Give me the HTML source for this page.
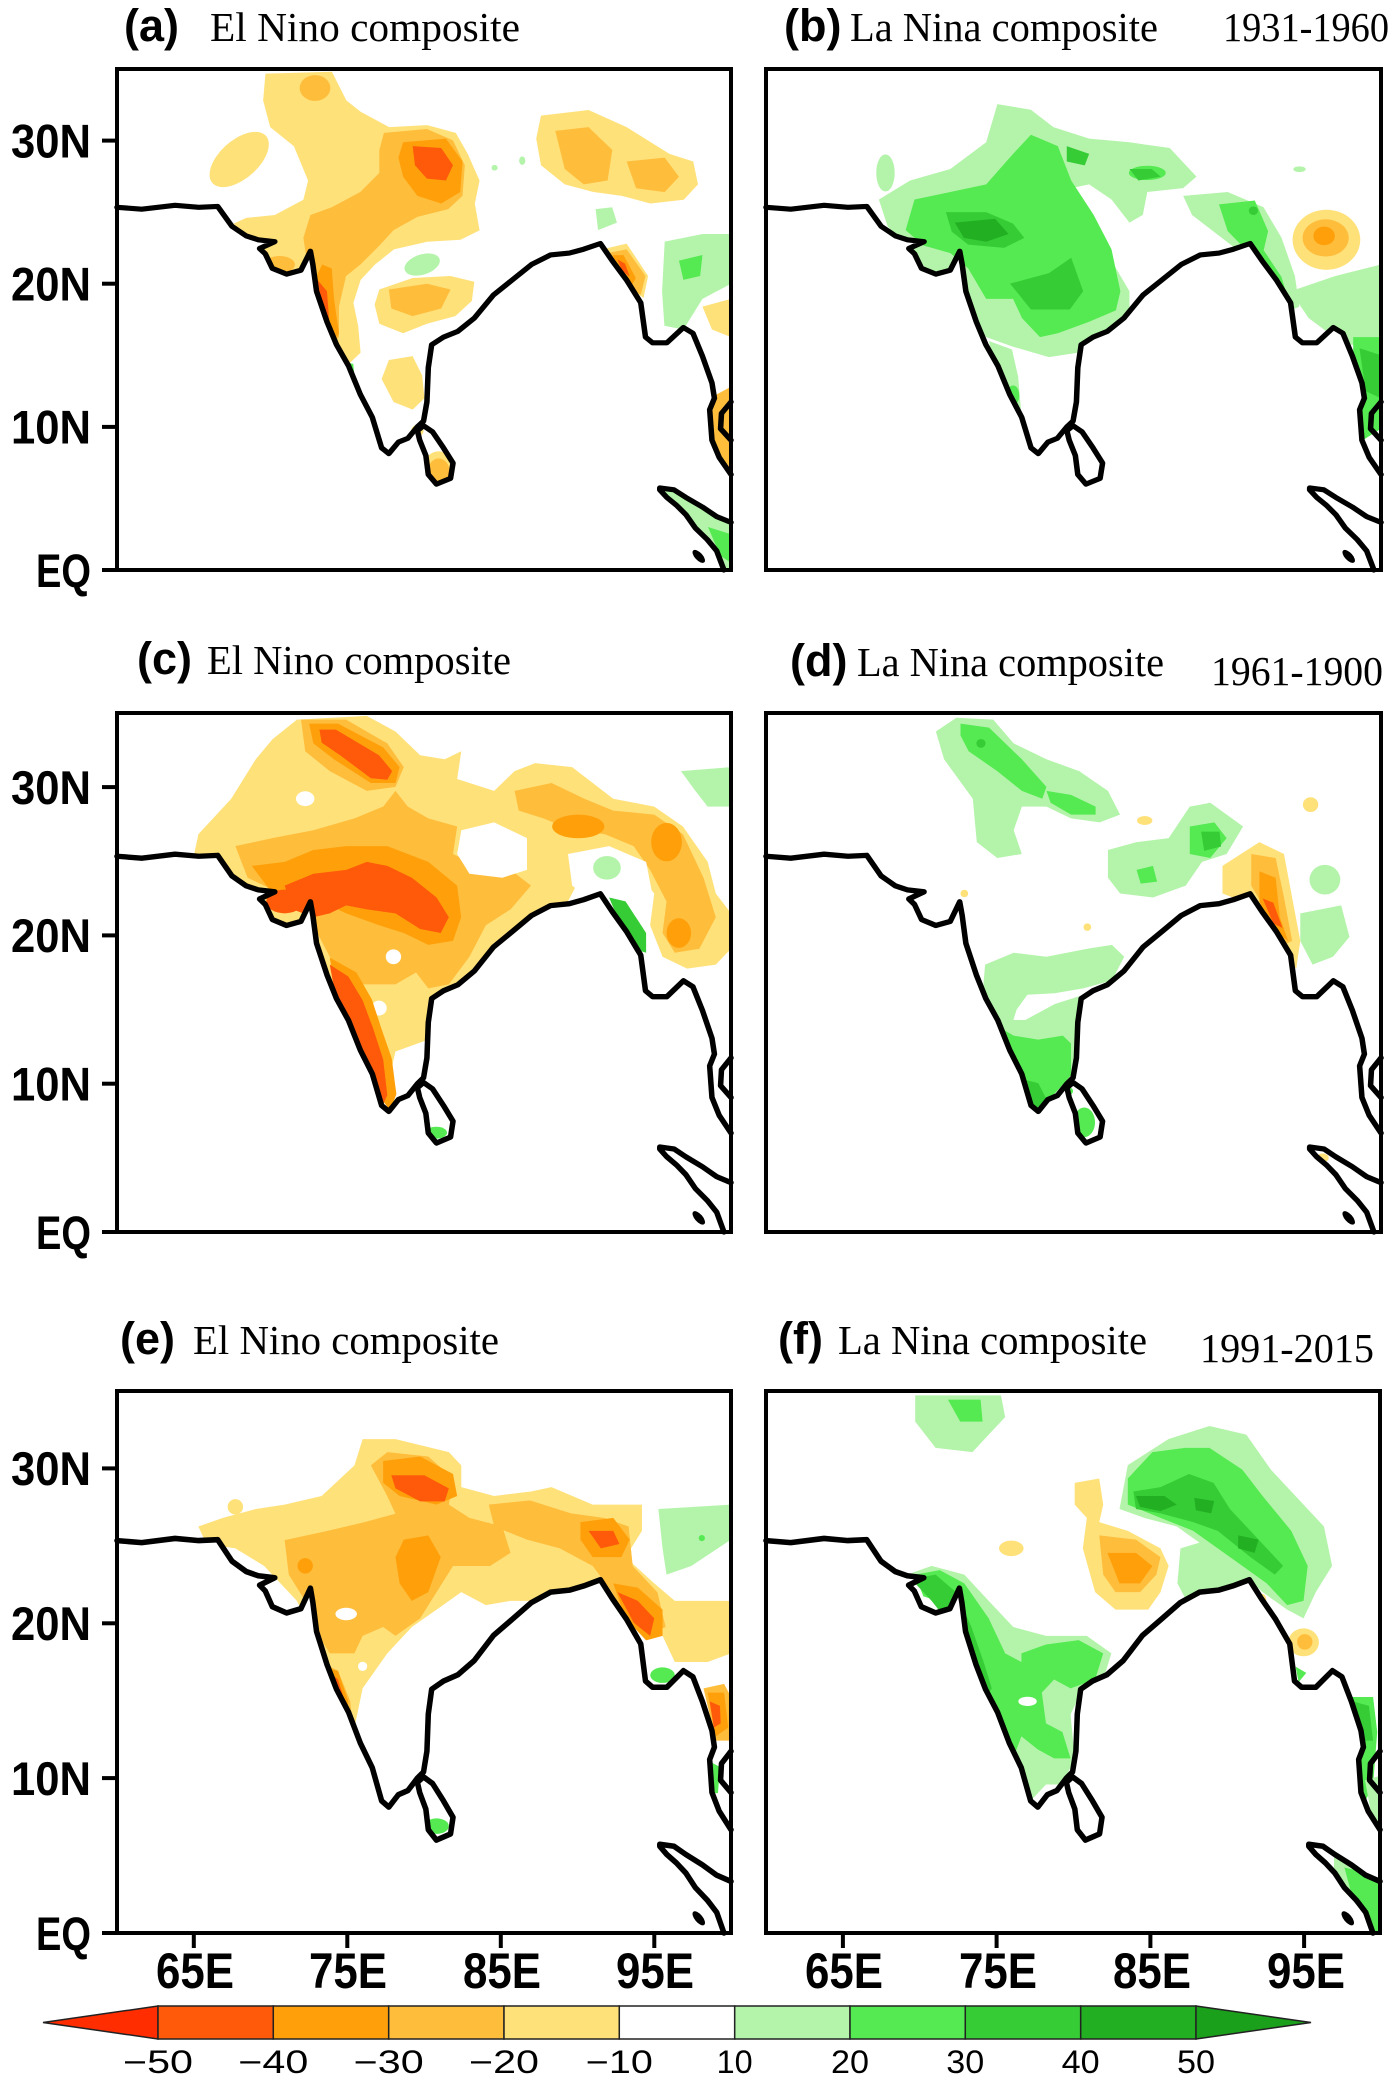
<!DOCTYPE html>
<html><head><meta charset="utf-8">
<style>
html,body{margin:0;padding:0;background:#fff}
body{width:1400px;height:2080px;position:relative;overflow:hidden}
.map{position:absolute;overflow:visible}
.y1{fill:#ffe17a}.y2{fill:#ffbd3c}.y3{fill:#ffa00a}.y4{fill:#ff5a0a}
.g1{fill:#b4f4aa}.g2{fill:#55ea52}.g3{fill:#36cc36}.g4{fill:#22b022}.wh{fill:#fff}
.cl{fill:none;stroke:#000;stroke-width:3.6;stroke-linejoin:round;stroke-linecap:round}
.fr{fill:none;stroke:#000;stroke-width:4;vector-effect:non-scaling-stroke}
</style></head><body>

<svg width="0" height="0" style="position:absolute;left:0;top:0">
<defs>
<path id="coast" d="M0,96.6 L16.1,97.9 37.8,95.2 53.3,96.6 65.6,96 74.9,109.9 84.2,116.6 92,119.3 102.8,120.6 92.9,125.4 96.6,129.1 101.2,139.3 110.5,143.3 119.8,140.6 126,127.3 127.6,136.6 130,155.3 136.8,176.6 143,192.6 150.8,207.3 158.5,227.3 166.3,243.3 172.4,264.7 177.1,268.7 183.3,260.7 189.5,258 195.7,250 199.7,246 201.9,232.6 202.8,208.6 205,192.6 212.7,187.3 222,183.3 232.8,174 245.2,157.9 257.6,147.3 270,136.6 282.4,129.9 294.7,128.6 304,125.9 314.9,121.9 322.6,133.9 331.9,147.3 341.2,163.3 344.3,187.3 348.9,191.3 358.2,191.3 369,180.6 375.2,184.6 381.4,200.6 387.6,219.3 389.2,230 386.1,238 387.6,259.3 392.3,271.3 400,283.3"/>
<path id="sl" d="M195.7,252.7 L199.7,249.2 205.6,253.5 212.7,264.7 218.9,275.3 217.3,286 208.1,290 202.8,283.3 201.2,270 197.2,259.3 Z"/>
<path id="sum" d="M400,316.7 L390.7,312.7 381.4,306 370.6,299.3 362.9,294 353.6,292.7 353.6,294 358.2,299.3 364.4,304.7 370.6,311.3 376.8,320.7 384.5,328.7 390.7,336.7 395.4,350"/>
<path id="thai" d="M400,232.6 L393.8,240.6 393.2,251.3 400,259.3"/>
<clipPath id="land"><path d="M0,96.6 L16.1,97.9 37.8,95.2 53.3,96.6 65.6,96 74.9,109.9 84.2,116.6 92,119.3 102.8,120.6 92.9,125.4 96.6,129.1 101.2,139.3 110.5,143.3 119.8,140.6 126,127.3 127.6,136.6 130,155.3 136.8,176.6 143,192.6 150.8,207.3 158.5,227.3 166.3,243.3 172.4,264.7 177.1,268.7 183.3,260.7 189.5,258 195.7,250 199.7,246 201.9,232.6 202.8,208.6 205,192.6 212.7,187.3 222,183.3 232.8,174 245.2,157.9 257.6,147.3 270,136.6 282.4,129.9 294.7,128.6 304,125.9 314.9,121.9 322.6,133.9 331.9,147.3 341.2,163.3 344.3,187.3 348.9,191.3 358.2,191.3 369,180.6 375.2,184.6 381.4,200.6 387.6,219.3 389.2,230 386.1,238 387.6,259.3 392.3,271.3 400,283.3 L400,0 L0,0 Z M195.7,252.7 L199.7,249.2 205.6,253.5 212.7,264.7 218.9,275.3 217.3,286 208.1,290 202.8,283.3 201.2,270 197.2,259.3 Z M353.6,292.7 L362.9,294 370.6,299.3 381.4,306 390.7,312.7 400,316.7 400,350 395.4,350 390.7,336.7 384.5,328.7 376.8,320.7 370.6,311.3 364.4,304.7 358.2,299.3 353.6,294 Z"/></clipPath>
</defs>
</svg>

<!-- Panel a -->
<svg class="map" style="left:117px;top:69px;width:614px;height:501px" viewBox="0 0 400 350" preserveAspectRatio="none">
<g clip-path="url(#land)">
<rect class="g1" x="350" y="285" width="50" height="65"/>
<polygon class="g2" points="385,320 400,325 400,345 393,340"/>
<ellipse class="g1" cx="198.8" cy="136.6" rx="12" ry="7" transform="rotate(-20 198.8 136.6)"/>
<polygon class="g1" points="356.8,120.6 381.6,115.3 400,115.3 400,150 381.4,160.6 369,182 356.6,179.4 355.1,155.3"/>
<polygon class="g2" points="366.1,133.9 381.4,129.9 379.9,144.6 369,147.3"/>
<polygon class="g1" points="311.8,97.9 322.6,96.6 325.7,107.3 313.4,112.6"/>
<polygon class="g2" points="147.7,204.6 153.9,206 155.4,222 150.8,219.3"/>
<ellipse class="g1" cx="246" cy="69" rx="2" ry="2"/>
<ellipse class="g1" cx="264" cy="64" rx="2" ry="3"/>
<polygon class="y1" points="96.7,3.2 140,1.9 149.4,21.9 158.7,29.9 177.3,40.6 202.1,39.2 220.7,44.6 228.5,59.3 236.2,78 233.1,94 236.2,112.7 223.8,119.3 202.1,120.7 180.4,126 168,136.7 158.7,147.4 154,163.4 157.1,179.4 158.7,198.1 151,206.1 140,192.6 124.5,166 121.4,144.6 109,144.6 90.4,128.7 76,108 84.2,104 102.8,102 121.4,91.3 124.5,78 115.2,53.9 99.8,40.6 95.2,21.9"/>
<ellipse class="y1" cx="79.6" cy="63.2" rx="24" ry="13" transform="rotate(-45 79.6 63.2)"/>
<polygon class="y1" points="170.9,154 192.6,146 217.3,144.6 232.8,148.6 231.2,162 220.4,172.6 201.9,178 186.4,184.6 170.9,178 167.8,164.6"/>
<polygon class="y1" points="177.1,203.3 192.6,200.6 198.8,214 200.3,230 192.6,238 180.2,232.6 172.4,216.6"/>
<ellipse class="y1" cx="195.7" cy="252.7" rx="4" ry="4"/>
<ellipse class="y1" cx="209.6" cy="279" rx="10" ry="12"/>
<polygon class="y1" points="276.2,32.6 307.2,28.6 332,40.6 359.9,59.3 375.4,64.6 378.5,80.6 369.2,91.3 347.5,94 328.9,88.6 310.3,85.9 291.7,80.6 276.2,67.2 273.1,48.6"/>
<polygon class="y1" points="316,126 332,122 346,144.6 343,160 331.9,151 320,139"/>
<polygon class="y1" points="381.4,166 400,160.6 400,187.3 387.6,182"/>
<polygon class="y2" points="390.7,227.3 400,222 400,283.3 387.6,272.7 386.1,246"/>
<ellipse class="y2" cx="129" cy="13.3" rx="10" ry="9"/>
<polygon class="y2" points="173.9,44.6 201.9,41.9 218.9,49.9 226.6,67.3 225.1,88.6 215.8,97.9 195.7,103.3 180.2,112.6 170.9,123.4 158.5,136.7 149.2,144.7 144.6,166 144.6,187.3 140,192.6 127.6,171.3 124.5,139.3 121.4,118 126,102 139.9,96.6 158.5,85.9 170.9,72.6 170.9,56.6"/>
<ellipse class="y2" cx="105.9" cy="136.6" rx="10" ry="6"/>
<polygon class="y2" points="177.1,154 201.9,150 217.3,154 211.2,167.3 192.6,172.6 178.7,167.3"/>
<polygon class="y2" points="285.5,43.2 307.2,40.6 322.7,56.6 319.6,77.9 304.1,80.6 291.7,69.9"/>
<polygon class="y2" points="332,64.6 356.8,61.9 366.1,75.3 356.8,86 338.2,83.3"/>
<ellipse class="y2" cx="209.6" cy="281" rx="7" ry="9"/>
<polygon class="y2" points="319.5,128.6 332,126 344.3,144.6 341.2,157.9 331.9,149.9 322.6,139.3"/>
<polygon class="y3" points="186.4,51.2 214.3,48.6 225.1,64.6 223.6,86 211.2,94 195.7,88.6 186.4,75.3 183.3,61.9"/>
<polygon class="y3" points="133.7,136.6 139.9,139.3 141.4,160.6 144.6,184.6 139.9,192.6 130.6,171.3 127.6,149.9"/>
<polygon class="y3" points="323,130 330,130 338,146 335,152 327,141"/>
<polygon class="y4" points="192.6,53.9 211.2,55.2 218.9,67.2 214.3,77.9 201.9,76.6 194.1,67.2"/>
<polygon class="y4" points="130.6,147.3 136.8,155.3 138.3,176.6 133.7,176.6 129.1,157.9"/>
<polygon class="y4" points="326,133 331,136 334,145 329,141"/>
</g>
<use href="#coast" class="cl"/><use href="#sl" class="cl"/><use href="#sum" class="cl"/><use href="#thai" class="cl"/>
<ellipse cx="379" cy="340.5" rx="5.5" ry="2.6" transform="rotate(50 379 340.5)" fill="#000"/>
<rect class="fr" x="0" y="0" width="400" height="350"/>
</svg>

<!-- Panel b -->
<svg class="map" style="left:766px;top:69px;width:615px;height:501px" viewBox="0 0 400 350" preserveAspectRatio="none">
<g clip-path="url(#land)">
<polygon class="g1" points="73.4,91.2 93.7,77.9 119.9,69.9 143.2,51.2 150.5,24.5 172.3,28.5 186.9,40.6 210.2,48.6 236.4,51.2 262.6,55.2 280,75.2 271.3,83.2 248,85.9 245.1,101.9 236.4,107.3 224.7,91.2 210.2,80.6 198.5,83.2 213.1,107.3 224.7,133.9 236.4,155.3 236.4,174 218.9,187.3 204.3,198 184,201.3 160.7,194 143.2,187.3 128.7,166 119.9,160.6 93.7,125.9 79.1,109.9"/>
<polygon class="g1" points="145,190 160,196 164,215 166,240 160,240 150,215"/>
<ellipse class="g1" cx="77.7" cy="72.6" rx="6" ry="13"/>
<polygon class="g1" points="271.3,88.6 300.3,85.9 323.6,96.6 335.3,117.9 344,144.6 346.9,166 335.3,171.3 323.6,155.3 306.2,126 277.1,102"/>
<polygon class="g1" points="341.2,155.3 370.3,144.6 400,136.6 400,192.6 376.1,192.6 352.8,173.9"/>
<ellipse class="g1" cx="347" cy="70" rx="4" ry="2"/>
<polygon class="g2" points="96.6,91.2 119.9,85.9 143.2,80.6 160.7,59.3 172.3,45.9 189.8,53.9 198.5,77.9 213.1,101.9 224.7,125.9 230.5,155.3 227.6,168.6 210.2,176.6 189.8,184.6 178.2,187.3 166.5,174 160.7,160.6 143.2,160.6 131.5,139.3 119.9,128.6 102.4,123.3 90.8,112.6"/>
<ellipse class="g2" cx="248" cy="72.6" rx="12" ry="5"/>
<ellipse class="g2" cx="160.7" cy="228" rx="4" ry="7"/>
<polygon class="g2" points="294.6,94.6 317.9,91.9 326.6,113.3 323.7,126.6 335.3,145.3 341.2,166.6 329.5,156 314.9,129.3 300.3,113.3"/>
<polygon class="g2" points="381.9,187.3 400,187.3 400,251.3 388.2,259.3 381.9,227.3"/>
<polygon class="g3" points="117,100 143.2,100 160.7,108 168,118 154.9,125 131.5,122.7 120.8,113.6"/>
<polygon class="g3" points="158.7,149.9 184,142.6 198.5,131.9 206.3,155.3 197.6,168 172.3,168"/>
<polygon class="g3" points="195.6,53.9 210.2,59.3 207.3,67.3 195.6,64.6"/>
<polygon class="g3" points="236.4,69.9 250.9,69.9 256.7,75.2 242.2,77.9"/>
<ellipse class="g3" cx="317" cy="99" rx="3" ry="3"/>
<polygon class="g3" points="386,195 400,200 400,230 390,225"/>
<polygon class="g4" points="122.8,107.3 149,104.6 157.8,115.3 143.2,120.7 128.7,118"/>
<ellipse class="y1" cx="364.5" cy="119.3" rx="22" ry="21"/>
<ellipse class="y2" cx="364" cy="118" rx="15" ry="13"/>
<ellipse class="y3" cx="363" cy="116.6" rx="7" ry="6.5"/>
</g>
<use href="#coast" class="cl"/><use href="#sl" class="cl"/><use href="#sum" class="cl"/><use href="#thai" class="cl"/>
<ellipse cx="379" cy="340.5" rx="5.5" ry="2.6" transform="rotate(50 379 340.5)" fill="#000"/>
<rect class="fr" x="0" y="0" width="400" height="350"/>
</svg>

<!-- Panel c -->
<svg class="map" style="left:117px;top:713px;width:614px;height:519px" viewBox="0 0 400 350" preserveAspectRatio="none">
<g clip-path="url(#land)">
<polygon class="g1" points="367.4,39.2 400,36.5 400,63.1 384.8,63.1 376.8,52.5"/>
<polygon class="y1" points="53,81.8 74.4,57.8 90.4,31.2 101.2,17.8 117.2,4.5 162.7,1.9 181.4,12.5 197.5,28.5 213.5,31.2 224.3,25.8 221.6,44.5 245.7,52.5 259,39.2 272.4,33.8 296.5,36.5 323.3,57.8 350,63.1 368.7,76.5 384.8,100.4 390.1,121.7 400,135.1 400,159 390.1,169.7 371.4,172.4 355.4,164.4 347.3,143.1 350,121.7 336.6,105.8 320.6,100.4 301.8,111.1 291.1,132.4 283.1,159 229.6,196.3 202.8,220.3 181.4,228.3 173.4,265.6 154.7,217.6 128,177.7 101.2,137.7 69,111.1 50.3,95.2"/>
<polygon class="y2" points="77.1,89.8 101.2,84.4 127.9,79.1 154.7,71.1 173.4,63.1 181.4,52.5 189.5,63.1 202.8,71.1 221.6,76.5 218.9,95.1 234.9,103.1 256.4,105.8 269.7,116.4 256.4,132.4 240.3,143.1 229.6,164.4 216.2,183 202.8,185.7 194.8,175 181.4,183 160,183 149.3,180.4 138.6,164.4 127.9,143.1 111.9,124.4 95.8,116.4 85.1,111.1"/>
<polygon class="y2" points="259,52.5 283.1,47.2 304.5,57.8 323.3,65.8 350,68.5 368.7,81.8 382.1,111.1 390.1,137.7 379.4,159 363.4,161.7 355.4,148.4 358,127.1 347.3,105.8 336.6,89.8 317.9,81.8 296.5,79.1 277.8,71.1 261.7,65.8"/>
<polygon class="y2" points="119.9,4.5 149.3,4.5 176.1,20.5 186.8,36.5 181.4,49.8 162.7,52.5 138.6,39.2 122.6,25.8"/>
<polygon class="y3" points="87.8,103.1 109.2,100.4 127.9,92.4 149.3,89.8 176.1,89.8 202.8,100.4 221.6,116.4 224.2,137.7 218.9,153.7 202.8,156.4 186.8,148.4 170.7,143.1 149.3,135.1 133.3,127.1 117.2,124.4 101.2,121.7"/>
<polygon class="y3" points="125.2,7.2 144,7.2 173.4,23.2 184.1,36.5 181.4,47.2 165.4,47.2 141.3,31.2 127.9,20.5"/>
<ellipse class="y3" cx="300.5" cy="76.5" rx="17" ry="8"/>
<ellipse class="y3" cx="358" cy="87.1" rx="10" ry="13"/>
<ellipse class="y3" cx="366" cy="148.4" rx="8" ry="10"/>
<polygon class="y4" points="109.2,116.4 127.9,108.4 149.3,105.8 162.7,100.4 176.1,103.1 192.1,111.1 208.2,124.4 216.2,137.7 210.9,148.4 197.5,145.7 181.4,135.1 162.7,132.4 149.3,129.7 138.6,135.1 127.9,137.7 114.5,132.4"/>
<polygon class="y4" points="131.9,11.2 142.6,11.2 170.7,28.5 179.3,39.2 176.1,45 165.4,44 145.3,28.5 133.3,20"/>
<ellipse class="y4" cx="109.2" cy="127.1" rx="12" ry="8"/>
<polygon class="wh" points="224.3,79.1 245.7,73.8 267.1,84.4 267.1,105.8 251,111.1 229.6,108.4 221.6,95.1"/>
<polygon class="wh" points="293.8,95.1 320.6,89.8 344.7,100.4 348.7,121.7 328.6,124.4 309.9,127.1 296.5,116.4"/>
<ellipse class="g1" cx="319.2" cy="104.4" rx="9" ry="8"/>
<ellipse class="wh" cx="122.6" cy="57.8" rx="6" ry="5"/>
<ellipse class="wh" cx="180.1" cy="164.4" rx="5" ry="5"/>
<ellipse class="wh" cx="170.7" cy="199" rx="5" ry="5"/>
<polygon class="y3" points="138.6,165 156,175 166,193 172,212 179,233 182,257 178,268 160,244.3 146.6,215"/>
<polygon class="y4" points="138.6,169.7 150.7,177.7 160,193.7 166.7,212.3 173.4,233.6 176.1,257.6 172.1,266.9 160,244.3 146.6,215"/>
<polygon class="g3" points="320.6,124.4 331.3,127 344.7,148.4 344.7,161.7 336.6,159 325.9,137.7"/>
<ellipse class="g2" cx="208" cy="283" rx="7" ry="4"/>
</g>
<use href="#coast" class="cl"/><use href="#sl" class="cl"/><use href="#sum" class="cl"/><use href="#thai" class="cl"/>
<ellipse cx="379" cy="340.5" rx="5.5" ry="2.6" transform="rotate(50 379 340.5)" fill="#000"/>
<rect class="fr" x="0" y="0" width="400" height="350"/>
</svg>

<!-- Panel d -->
<svg class="map" style="left:766px;top:713px;width:615px;height:519px" viewBox="0 0 400 350" preserveAspectRatio="none">
<g clip-path="url(#land)">
<polygon class="g1" points="110.5,12.5 123.8,3.2 147.8,4.5 161.1,20.5 182.4,31.2 203.7,39.2 222.4,52.5 230.3,68.5 217,73.8 198.4,71.1 182.4,63.1 166.4,63.1 161.1,79.1 166.4,95.1 150.4,97.8 137.1,87.1 134.5,57.8 115.8,31.2"/>
<polygon class="g1" points="222.4,92.4 241,87.1 261.9,84.4 275.6,63.1 289,60.5 310.3,76.5 299.6,95.1 283.6,100.4 273,116.4 251.7,124.4 230.3,121.7 222.4,111.1"/>
<ellipse class="g1" cx="363.5" cy="112.4" rx="10" ry="10"/>
<polygon class="g1" points="347.5,135.1 374.1,129.7 379.5,151 368.8,164.4 355.5,169.7 347.5,153.7"/>
<polygon class="g1" points="142.5,169.7 161.1,161.7 182.4,164.4 209,159 225,156.4 233,164.4 225,180.4 206.4,185.7 187.7,189 170,190 163,200 160,210 150,215 140,200"/>
<polygon class="g1" points="145.1,207 168.7,207 187.7,196.3 203.7,191 203.7,217.6 198.4,244.3 182.4,262.9 174.4,270.9 161.1,260.3 150.4,233.6 142.5,212.3"/>
<polygon class="g2" points="126.5,7.2 145.1,9.9 166.4,31.2 182.4,49.8 179.7,57.8 166.4,52.5 150.4,39.2 131.8,25.8 126.5,15.2"/>
<polygon class="g2" points="182.4,52.5 198.4,55.2 214.4,63.1 214.4,68.5 198.4,68.5 185.1,60.5"/>
<polygon class="g2" points="275.6,76.5 291.6,73.8 299.6,84.4 288.9,97.8 275.6,95.1"/>
<polygon class="g2" points="241,105.8 251.7,103.1 254.4,113.7 243.7,115.1"/>
<polygon class="g2" points="147.8,209.7 161.1,217.6 177.1,220.3 193.1,217.6 198.4,222.9 198.4,244.3 182.4,262.9 171.7,268.2 161.1,249.6 153.1,228.3"/>
<ellipse class="g2" cx="207" cy="276" rx="7" ry="10"/>
<ellipse class="g2" cx="195.7" cy="255" rx="4" ry="3"/>
<ellipse class="g3" cx="139.8" cy="20.5" rx="3" ry="3"/>
<polygon class="g3" points="166.4,246.9 177.1,249.6 182.4,260.3 174.4,268.2"/>
<ellipse class="g3" cx="150" cy="218" rx="3" ry="5"/>
<polygon class="g3" points="283,80 295,80 296,90 285,93"/>
<polygon class="y1" points="296.9,103.1 320.9,87.1 336.9,95.1 342.2,124.4 347.5,153.7 344.9,172.4 334.2,159 320.9,137.7 310.3,127.1 296.9,121.7"/>
<polygon class="y2" points="315.6,95.1 331.5,97.8 336.9,124.4 342.2,153.7 336.9,156.4 326.2,135.1 315.6,116.4"/>
<polygon class="y3" points="320.9,106.8 331.5,111.1 334.2,137.7 339.6,153.7 328.9,145.7 320.9,127.1"/>
<polygon class="y4" points="323,125 330,128 336,145 330,142"/>
<ellipse class="y1" cx="246.3" cy="72.5" rx="5" ry="3"/>
<ellipse class="y1" cx="354.2" cy="61.8" rx="5" ry="5"/>
<ellipse class="y1" cx="209" cy="144.4" rx="2.5" ry="2.5"/>
<ellipse class="y1" cx="129" cy="121.7" rx="2.5" ry="2.5"/>
<ellipse class="y1" cx="362" cy="300" rx="4" ry="3"/>
</g>
<use href="#coast" class="cl"/><use href="#sl" class="cl"/><use href="#sum" class="cl"/><use href="#thai" class="cl"/>
<ellipse cx="379" cy="340.5" rx="5.5" ry="2.6" transform="rotate(50 379 340.5)" fill="#000"/>
<rect class="fr" x="0" y="0" width="400" height="350"/>
</svg>

<!-- Panel e -->
<svg class="map" style="left:117px;top:1391px;width:614px;height:542px" viewBox="0 0 400 350" preserveAspectRatio="none">
<g clip-path="url(#land)">
<polygon class="g1" points="352.7,76.2 400,73.4 400,96 374.1,113 358,118.6 355.4,101.6"/>
<ellipse class="g2" cx="381" cy="95" rx="2" ry="2"/>
<ellipse class="g2" cx="355.4" cy="183.5" rx="8" ry="5"/>
<polygon class="g2" points="387.5,240 392.8,242.8 391.5,259.7 387.5,259.7"/>
<ellipse class="g2" cx="208.2" cy="281" rx="8" ry="5"/>
<polygon class="y1" points="53,87.5 69,81.9 90.4,76.2 109.2,73.4 133.3,67.8 154.7,48 160,31.1 181.4,31.1 216.2,39.5 224.3,48 224.3,62.1 245.7,67.8 269.7,64.9 283.1,62.1 309.9,73.4 342,73.4 342,90.3 331.3,107.3 350,124.2 363.4,135.5 400,135.5 400,169.4 384.8,175 363.4,175 355.4,158.1 336.6,149.6 323.3,141.2 309.9,129.9 283.1,135.5 256.4,135.5 240.3,138.3 224.3,129.9 208.2,141.2 192.1,152.4 176.1,169.4 160,192 154.7,217.4 149.3,220.2 138.6,203.3 127.9,175 122.6,146.8 117.2,135.5 106.5,124.2 95.8,112.9 77.1,101.6 58.3,98.8"/>
<ellipse class="y1" cx="77.1" cy="74.8" rx="5" ry="5"/>
<polygon class="y2" points="109.2,96.3 136,90.6 160,85 181.4,79.3 176.1,68 165.4,48 176.1,39.5 202.8,42.3 218.9,56.5 216.2,73.4 229.6,81.9 251,87.5 256.4,104.5 243,113 218.9,113 208.2,129.9 197.5,146.8 181.4,158.1 173.4,152.4 160,158.1 154.7,169.4 138.6,169.4 127.9,152.4 122.6,135.5 111.9,118.6"/>
<polygon class="y2" points="242.2,73.4 269,70.6 295.8,79 317.2,81.9 333.3,87.5 336,113 352.1,130 357.4,152.4 344,158.1 330.6,146.8 322.6,129.9 309.9,113 288.5,101.6 267.1,96 245.7,87.5"/>
<polygon class="y2" points="382.1,192 395.5,189.1 400,197.6 400,225.8 390.1,225.8"/>
<polygon class="y2" points="133.3,175 144,180.7 152,200.4 153.4,217.4 146.7,214.6 136,194.8"/>
<polygon class="y3" points="173.4,45.2 197.5,42.3 218.9,53.6 221.6,67.8 208.2,73.4 184.1,67.8 173.4,59.3"/>
<polygon class="y3" points="186.8,96 202.8,93.2 210.9,107.3 202.8,129.9 192.1,135.5 184.1,124.2 181.4,107.3"/>
<ellipse class="y3" cx="122.6" cy="112.9" rx="5" ry="5"/>
<polygon class="y3" points="301.9,84.7 323.3,81.9 334,96 328.6,107.3 309.9,107.3 301.9,96"/>
<polygon class="y3" points="323.3,124.2 339.3,127 355.4,141.2 355.4,158.1 344.7,161 331.3,146.8"/>
<polygon class="y3" points="133.3,177.8 144,180.7 150.7,200.4 149.3,211.7 141.3,197.6"/>
<polygon class="y3" points="384.8,194.8 395.5,194.8 398.2,217.4 390.1,223"/>
<polygon class="y4" points="178.7,54.4 200.2,54.4 216.2,62.9 213.5,71.3 197.5,71.3 181.4,62.9"/>
<polygon class="y4" points="307.2,90.3 323.3,90.3 327.3,98.8 315.2,101.6"/>
<polygon class="y4" points="326,129.9 339.3,135.5 350,146.8 347.3,158.1 336.6,149.6"/>
<polygon class="y4" points="137.3,180.7 144,186.3 149.3,203.3 146.7,207.5 138.6,192"/>
<polygon class="y4" points="386.1,200.4 392.8,203.3 393.3,214.6 388.8,217.4"/>
<ellipse class="wh" cx="149.3" cy="144" rx="7" ry="4"/>
<ellipse class="wh" cx="160" cy="177.8" rx="3" ry="3"/>
</g>
<use href="#coast" class="cl"/><use href="#sl" class="cl"/><use href="#sum" class="cl"/><use href="#thai" class="cl"/>
<ellipse cx="379" cy="340.5" rx="5.5" ry="2.6" transform="rotate(50 379 340.5)" fill="#000"/>
<rect class="fr" x="0" y="0" width="400" height="350"/>
</svg>

<!-- Panel f -->
<svg class="map" style="left:766px;top:1391px;width:614px;height:542px" viewBox="0 0 400 350" preserveAspectRatio="none">
<g clip-path="url(#land)">
<polygon class="g1" points="97.2,2.8 153.1,2.8 155.8,16.9 145.1,28.2 134.5,39.5 110.5,36.7 97.2,19.8"/>
<polygon class="g2" points="118.5,5.6 139.8,5.6 141.1,19.8 126.5,19.8"/>
<polygon class="g1" points="235.7,47.9 262.3,31 288.9,22.6 312.9,28.2 328.9,50.8 350.2,73.4 363.5,87.5 368.8,112.9 358.2,129.9 350.2,146.8 339.5,141.2 323.5,129.9 304.9,112.9 275.6,107.3 283.6,98.8 267.6,87.5 246.3,81.9 230.3,76.2"/>
<polygon class="g1" points="270,101.6 288.9,96 312.9,118.6 315.6,127 288.9,132.6 274,135.5 268,124.2"/>
<polygon class="g2" points="235.7,56.5 251.7,39.5 273,36.7 288.9,36.7 310.3,50.8 323.5,67.8 342.2,90.3 352.9,112.9 350.2,135.5 339.5,138.3 326.2,124.2 310.3,112.9 294.3,101.6 278.3,90.3 257,81.9 235.7,73.4"/>
<polygon class="g3" points="239.3,64.9 257,62.1 275.6,53.6 291.6,59.3 302.2,76.2 315.6,90.3 326.2,101.6 336.9,112.9 331.5,118.6 315.6,107.3 294.3,90.3 278.3,84.7 257,79 241,76.2"/>
<polygon class="g4" points="241,67.8 259.6,67.8 267.6,73.4 257,77.6 243.7,74.8"/>
<polygon class="g4" points="279,69 292,71 290,79 280,77"/>
<polygon class="g4" points="307.6,93.2 320.9,96 318.3,104.5 307.6,101.6"/>
<polygon class="g1" points="91.9,118.6 107.9,112.9 129.2,118.6 145.1,135.5 161.1,152.4 182.4,158.1 209,158.1 225,169.4 219.7,186.3 203.7,197.6 198.4,208.9 201.1,237.2 193.1,254.1 182.4,254.1 171.7,265.4 161.1,259.7 155.8,237.2 145.1,208.9 134.5,180.7 123.8,141.2"/>
<polygon class="g2" points="97.2,118.6 113.2,115.7 129.2,124.2 145.1,146.8 155.8,169.4 166.4,175 166.4,169.4 182.4,163.7 203.7,160.9 219.7,169.4 214.4,186.3 198.4,192 187.7,186.3 179.7,194.8 182.4,214.6 193.1,220.2 198.4,237.2 187.7,237.2 177.1,231.5 166.4,223 161.1,237.2 155.8,231.5 150.4,208.9 139.8,192 129.2,169.4 121.2,138.3 102.5,132.6"/>
<polygon class="g3" points="94.5,121.4 110.5,118.6 123.8,129.9 133.8,152.4 141.8,175 147.1,192 141.8,199.6 131.8,177.8 121.2,152.4 107.9,135.5"/>
<ellipse class="wh" cx="170.4" cy="200.4" rx="6" ry="3"/>
<polygon class="g2" points="379.5,197.6 395.5,197.6 398.2,220.2 395.5,254.1 390.2,265.4 384.8,265.4 379.5,237.2"/>
<polygon class="g3" points="382.2,200.4 392.8,203.3 395.5,225.8 387.5,225.8"/>
<polygon class="g1" points="390.2,251.3 400,248.5 400,282.4 395.5,279.5"/>
<polygon class="g2" points="345,178 352,182 347,188"/>
<rect class="g1" x="370" y="300" width="30" height="50"/>
<polygon class="g2" points="376.8,307.7 400,313.3 400,350 392.8,350 382.2,327.5"/>
<polygon class="y1" points="201.1,59.3 217.1,56.5 219.7,73.4 217.1,84.7 235.7,90.3 257,101.6 262.3,112.9 257,129.9 249,141.2 227.7,141.2 214.4,129.9 206.4,101.6 209,81.9 201.1,73.4"/>
<polygon class="y2" points="217.1,93.2 241,96 257,107.3 254.3,118.6 243.7,129.9 227.7,129.9 219.7,118.6"/>
<polygon class="y3" points="222.4,104.5 241,104.5 251.7,113 243.7,124.2 230.3,124.2"/>
<ellipse class="y1" cx="159.8" cy="101.6" rx="8" ry="5"/>
<ellipse class="y1" cx="350.2" cy="162.3" rx="10" ry="9"/>
<ellipse class="y2" cx="351" cy="162" rx="5" ry="5"/>
<ellipse class="y1" cx="323" cy="135" rx="3" ry="4"/>
</g>
<use href="#coast" class="cl"/><use href="#sl" class="cl"/><use href="#sum" class="cl"/><use href="#thai" class="cl"/>
<ellipse cx="379" cy="340.5" rx="5.5" ry="2.6" transform="rotate(50 379 340.5)" fill="#000"/>
<rect class="fr" x="0" y="0" width="400" height="350"/>
</svg>

<!-- Overlay: titles, ticks, labels, colorbar -->
<svg style="position:absolute;left:0;top:0" width="1400" height="2080" viewBox="0 0 1400 2080">
<g font-family="'Liberation Sans', Arial, sans-serif" font-weight="bold" font-size="45" fill="#000">
<text x="124" y="41">(a)</text>
<text x="784" y="41">(b)</text>
<text x="137" y="674">(c)</text>
<text x="790" y="676">(d)</text>
<text x="120" y="1354">(e)</text>
<text x="778" y="1354">(f)</text>
</g>
<g font-family="'Liberation Serif', 'Times New Roman', serif" font-size="41" fill="#000">
<text x="210" y="41" textLength="310" lengthAdjust="spacingAndGlyphs">El Nino composite</text>
<text x="850" y="41" textLength="308" lengthAdjust="spacingAndGlyphs">La Nina composite</text>
<text x="1223" y="41" textLength="166" lengthAdjust="spacingAndGlyphs">1931-1960</text>
<text x="207" y="674" textLength="304" lengthAdjust="spacingAndGlyphs">El Nino composite</text>
<text x="857" y="676" textLength="307" lengthAdjust="spacingAndGlyphs">La Nina composite</text>
<text x="1211" y="685" textLength="172" lengthAdjust="spacingAndGlyphs">1961-1900</text>
<text x="193" y="1354" textLength="306" lengthAdjust="spacingAndGlyphs">El Nino composite</text>
<text x="838" y="1354" textLength="309" lengthAdjust="spacingAndGlyphs">La Nina composite</text>
<text x="1200" y="1362" textLength="174" lengthAdjust="spacingAndGlyphs">1991-2015</text>
</g>
<g stroke="#000" stroke-width="4">
<line x1="102" y1="140.6" x2="117" y2="140.6"/><line x1="102" y1="283.7" x2="117" y2="283.7"/><line x1="102" y1="426.9" x2="117" y2="426.9"/><line x1="102" y1="570" x2="117" y2="570"/>
<line x1="102" y1="787.1" x2="117" y2="787.1"/><line x1="102" y1="935.4" x2="117" y2="935.4"/><line x1="102" y1="1083.7" x2="117" y2="1083.7"/><line x1="102" y1="1232" x2="117" y2="1232"/>
<line x1="102" y1="1468.4" x2="117" y2="1468.4"/><line x1="102" y1="1623.3" x2="117" y2="1623.3"/><line x1="102" y1="1778.1" x2="117" y2="1778.1"/><line x1="102" y1="1933" x2="117" y2="1933"/>
<line x1="193.8" y1="1933" x2="193.8" y2="1948"/><line x1="347.3" y1="1933" x2="347.3" y2="1948"/><line x1="500.8" y1="1933" x2="500.8" y2="1948"/><line x1="654.3" y1="1933" x2="654.3" y2="1948"/>
<line x1="842.9" y1="1933" x2="842.9" y2="1948"/><line x1="996.6" y1="1933" x2="996.6" y2="1948"/><line x1="1150.4" y1="1933" x2="1150.4" y2="1948"/><line x1="1304.1" y1="1933" x2="1304.1" y2="1948"/>
</g>
<g font-family="'Liberation Sans', Arial, sans-serif" font-weight="bold" font-size="47" fill="#000" text-anchor="end">
<text x="91" y="157.4" textLength="80" lengthAdjust="spacingAndGlyphs">30N</text>
<text x="91" y="300.5" textLength="80" lengthAdjust="spacingAndGlyphs">20N</text>
<text x="91" y="443.7" textLength="80" lengthAdjust="spacingAndGlyphs">10N</text>
<text x="91" y="586.8" textLength="55" lengthAdjust="spacingAndGlyphs">EQ</text>
<text x="91" y="803.9" textLength="80" lengthAdjust="spacingAndGlyphs">30N</text>
<text x="91" y="952.2" textLength="80" lengthAdjust="spacingAndGlyphs">20N</text>
<text x="91" y="1100.5" textLength="80" lengthAdjust="spacingAndGlyphs">10N</text>
<text x="91" y="1248.8" textLength="55" lengthAdjust="spacingAndGlyphs">EQ</text>
<text x="91" y="1485.2" textLength="80" lengthAdjust="spacingAndGlyphs">30N</text>
<text x="91" y="1640.1" textLength="80" lengthAdjust="spacingAndGlyphs">20N</text>
<text x="91" y="1794.9" textLength="80" lengthAdjust="spacingAndGlyphs">10N</text>
<text x="91" y="1949.8" textLength="55" lengthAdjust="spacingAndGlyphs">EQ</text>
</g>
<g font-family="'Liberation Sans', Arial, sans-serif" font-weight="bold" font-size="50" fill="#000" text-anchor="middle">
<text x="195" y="1988" textLength="78" lengthAdjust="spacingAndGlyphs">65E</text>
<text x="348" y="1988" textLength="78" lengthAdjust="spacingAndGlyphs">75E</text>
<text x="502" y="1988" textLength="78" lengthAdjust="spacingAndGlyphs">85E</text>
<text x="655" y="1988" textLength="78" lengthAdjust="spacingAndGlyphs">95E</text>
<text x="844" y="1988" textLength="78" lengthAdjust="spacingAndGlyphs">65E</text>
<text x="998" y="1988" textLength="78" lengthAdjust="spacingAndGlyphs">75E</text>
<text x="1152" y="1988" textLength="78" lengthAdjust="spacingAndGlyphs">85E</text>
<text x="1306" y="1988" textLength="78" lengthAdjust="spacingAndGlyphs">95E</text>
</g>
<g stroke="#222" stroke-width="1.5">
<polygon points="43,2022.5 158,2006 158,2039" fill="#ff2d00"/>
<rect x="158" y="2006" width="115.3" height="33" fill="#ff5a0a"/>
<rect x="273.3" y="2006" width="115.4" height="33" fill="#ffa00a"/>
<rect x="388.7" y="2006" width="115.3" height="33" fill="#ffbd3c"/>
<rect x="504" y="2006" width="115.3" height="33" fill="#ffe17a"/>
<rect x="619.3" y="2006" width="115.4" height="33" fill="#ffffff"/>
<rect x="734.7" y="2006" width="115.3" height="33" fill="#b4f4aa"/>
<rect x="850" y="2006" width="115.3" height="33" fill="#55ea52"/>
<rect x="965.3" y="2006" width="115.4" height="33" fill="#36cc36"/>
<rect x="1080.7" y="2006" width="115.3" height="33" fill="#22b022"/>
<polygon points="1196,2006 1196,2039 1311,2022.5" fill="#1aa01a"/>
</g>
<g font-family="'Liberation Sans', Arial, sans-serif" font-size="32" fill="#000" text-anchor="middle">
<text x="158" y="2073" textLength="70" lengthAdjust="spacingAndGlyphs">−50</text>
<text x="273.3" y="2073" textLength="70" lengthAdjust="spacingAndGlyphs">−40</text>
<text x="388.7" y="2073" textLength="70" lengthAdjust="spacingAndGlyphs">−30</text>
<text x="504" y="2073" textLength="70" lengthAdjust="spacingAndGlyphs">−20</text>
<text x="619.3" y="2073" textLength="67" lengthAdjust="spacingAndGlyphs">−10</text>
<text x="734.7" y="2073" textLength="36" lengthAdjust="spacingAndGlyphs">10</text>
<text x="850" y="2073" textLength="38" lengthAdjust="spacingAndGlyphs">20</text>
<text x="965.3" y="2073" textLength="38" lengthAdjust="spacingAndGlyphs">30</text>
<text x="1080.7" y="2073" textLength="38" lengthAdjust="spacingAndGlyphs">40</text>
<text x="1196" y="2073" textLength="38" lengthAdjust="spacingAndGlyphs">50</text>
</g>
</svg>
</body></html>
